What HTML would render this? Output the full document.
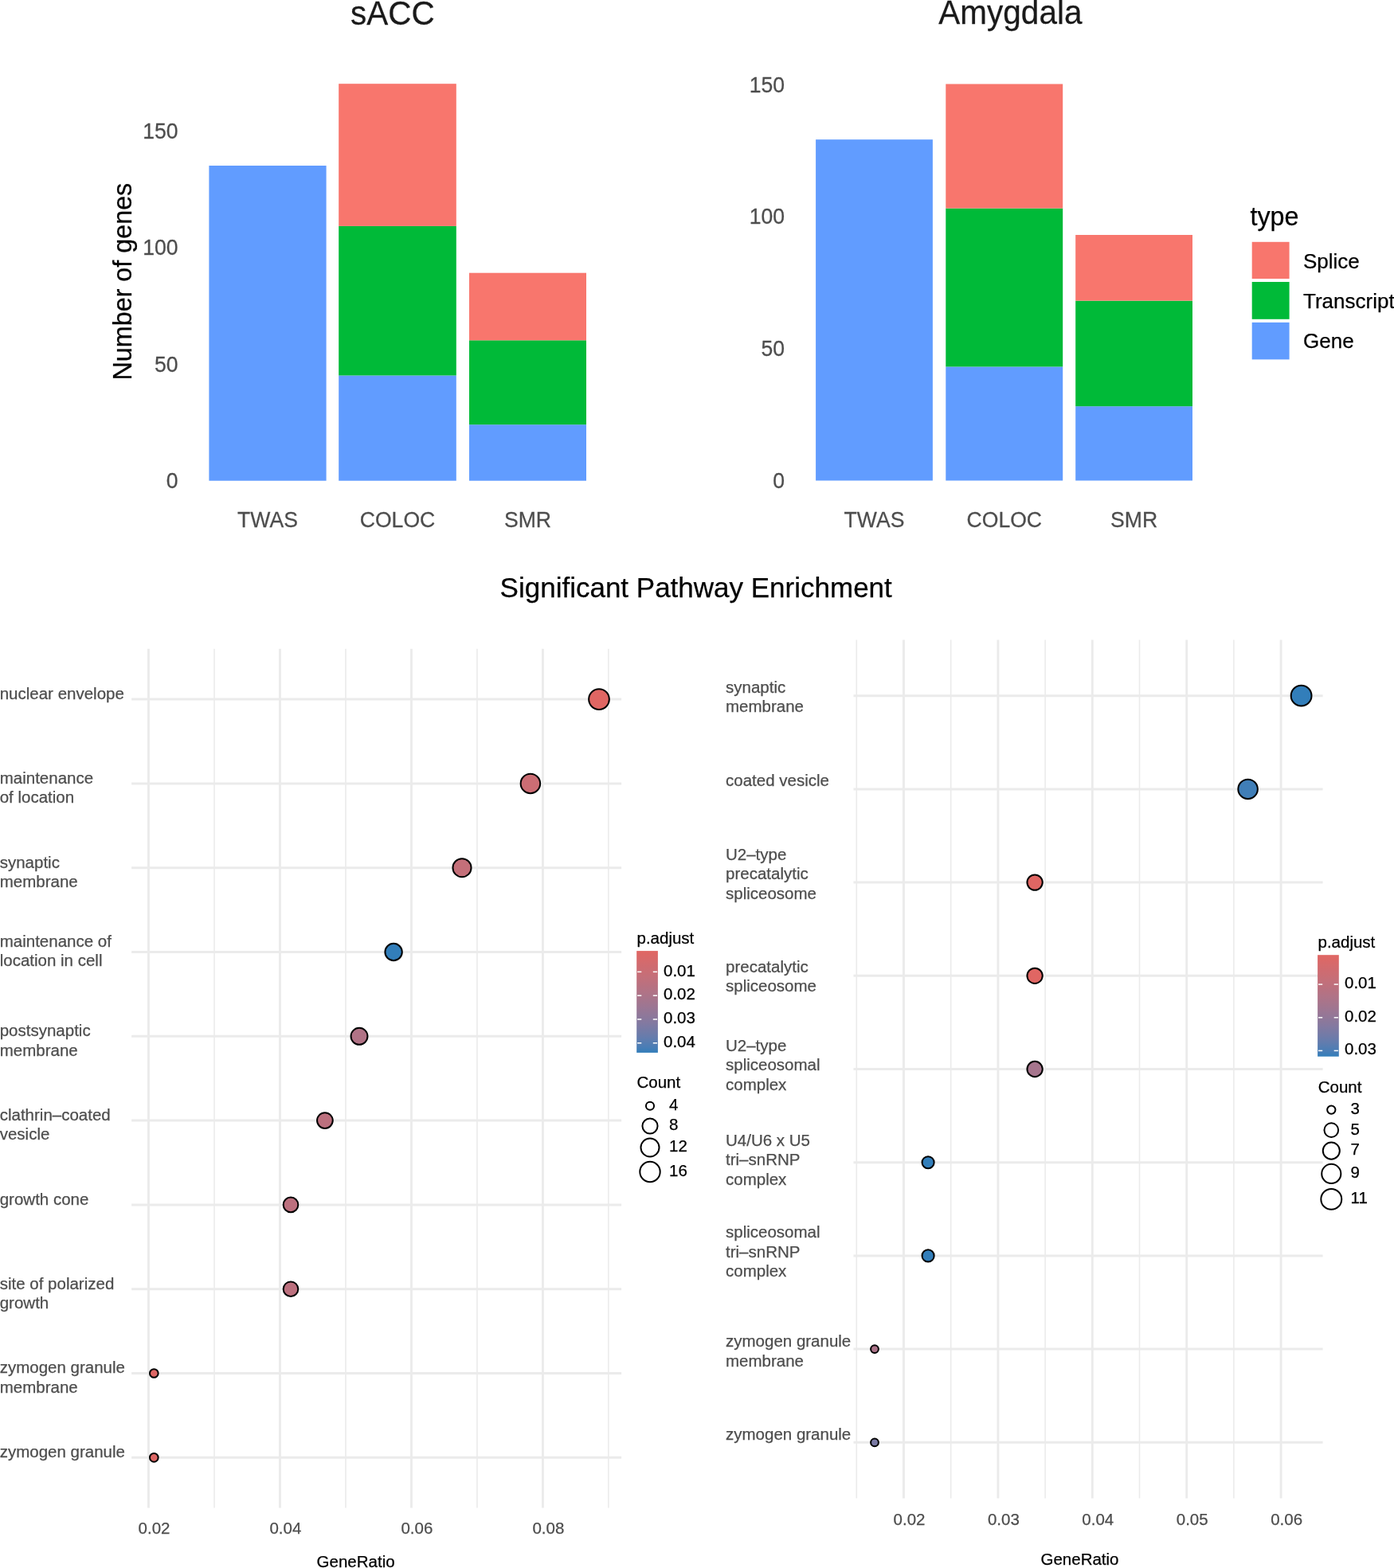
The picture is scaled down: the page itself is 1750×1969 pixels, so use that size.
<!DOCTYPE html>
<html><head><meta charset="utf-8"><title>Figure</title>
<style>html,body{margin:0;padding:0;background:#fff;}body{width:1750px;height:1969px;overflow:hidden;}svg{display:block;}</style>
</head><body>
<svg width="1750" height="1969" viewBox="0 0 1750 1969" font-family="&apos;Liberation Sans&apos;, Arial, sans-serif">
<rect x="0" y="0" width="1750" height="1969" fill="#fff"/>
<text transform="translate(492.90,30.60) scale(1,1.06)" font-size="40.5" fill="#1A1A1A" stroke="#1A1A1A" stroke-width="0.25" text-anchor="middle" >sACC</text>
<text transform="translate(223.60,613.00) scale(1,1.045)" font-size="26.6" fill="#4D4D4D" stroke="#4D4D4D" stroke-width="0.25" text-anchor="end" >0</text>
<text transform="translate(223.60,466.70) scale(1,1.045)" font-size="26.6" fill="#4D4D4D" stroke="#4D4D4D" stroke-width="0.25" text-anchor="end" >50</text>
<text transform="translate(223.60,320.40) scale(1,1.045)" font-size="26.6" fill="#4D4D4D" stroke="#4D4D4D" stroke-width="0.25" text-anchor="end" >100</text>
<text transform="translate(223.60,173.90) scale(1,1.045)" font-size="26.6" fill="#4D4D4D" stroke="#4D4D4D" stroke-width="0.25" text-anchor="end" >150</text>
<text transform="translate(165,353.6) rotate(-90)" font-size="32.3" fill="#000" stroke="#000" stroke-width="0.25" text-anchor="middle">Number of genes</text>
<rect x="262.40" y="208.00" width="147.20" height="395.70" fill="#619CFF"/>
<rect x="425.20" y="471.50" width="147.60" height="132.20" fill="#619CFF"/>
<rect x="425.20" y="283.90" width="147.60" height="187.60" fill="#00BA38"/>
<rect x="425.20" y="105.20" width="147.60" height="178.70" fill="#F8766D"/>
<rect x="589.00" y="533.20" width="147.00" height="70.50" fill="#619CFF"/>
<rect x="589.00" y="427.30" width="147.00" height="105.90" fill="#00BA38"/>
<rect x="589.00" y="342.70" width="147.00" height="84.60" fill="#F8766D"/>
<text transform="translate(336.00,662.10) scale(1,1.045)" font-size="26.6" fill="#4D4D4D" stroke="#4D4D4D" stroke-width="0.25" text-anchor="middle" >TWAS</text>
<text transform="translate(499.00,662.10) scale(1,1.045)" font-size="26.6" fill="#4D4D4D" stroke="#4D4D4D" stroke-width="0.25" text-anchor="middle" >COLOC</text>
<text transform="translate(662.50,662.10) scale(1,1.045)" font-size="26.6" fill="#4D4D4D" stroke="#4D4D4D" stroke-width="0.25" text-anchor="middle" >SMR</text>
<text transform="translate(1268.40,30.30) scale(1,1.03)" font-size="40.5" fill="#1A1A1A" stroke="#1A1A1A" stroke-width="0.25" text-anchor="middle" >Amygdala</text>
<text transform="translate(985.00,613.20) scale(1,1.045)" font-size="26.6" fill="#4D4D4D" stroke="#4D4D4D" stroke-width="0.25" text-anchor="end" >0</text>
<text transform="translate(985.00,447.30) scale(1,1.045)" font-size="26.6" fill="#4D4D4D" stroke="#4D4D4D" stroke-width="0.25" text-anchor="end" >50</text>
<text transform="translate(985.00,281.40) scale(1,1.045)" font-size="26.6" fill="#4D4D4D" stroke="#4D4D4D" stroke-width="0.25" text-anchor="end" >100</text>
<text transform="translate(985.00,115.80) scale(1,1.045)" font-size="26.6" fill="#4D4D4D" stroke="#4D4D4D" stroke-width="0.25" text-anchor="end" >150</text>
<rect x="1024.10" y="175.20" width="146.80" height="428.30" fill="#619CFF"/>
<rect x="1187.30" y="460.50" width="146.90" height="143.00" fill="#619CFF"/>
<rect x="1187.30" y="261.60" width="146.90" height="198.90" fill="#00BA38"/>
<rect x="1187.30" y="105.50" width="146.90" height="156.10" fill="#F8766D"/>
<rect x="1350.20" y="510.20" width="146.80" height="93.30" fill="#619CFF"/>
<rect x="1350.20" y="377.60" width="146.80" height="132.60" fill="#00BA38"/>
<rect x="1350.20" y="295.00" width="146.80" height="82.60" fill="#F8766D"/>
<text transform="translate(1097.50,662.10) scale(1,1.045)" font-size="26.6" fill="#4D4D4D" stroke="#4D4D4D" stroke-width="0.25" text-anchor="middle" >TWAS</text>
<text transform="translate(1260.80,662.10) scale(1,1.045)" font-size="26.6" fill="#4D4D4D" stroke="#4D4D4D" stroke-width="0.25" text-anchor="middle" >COLOC</text>
<text transform="translate(1423.60,662.10) scale(1,1.045)" font-size="26.6" fill="#4D4D4D" stroke="#4D4D4D" stroke-width="0.25" text-anchor="middle" >SMR</text>
<text x="1569.50" y="282.90" font-size="32.3" fill="#000" stroke="#000" stroke-width="0.25" text-anchor="start" >type</text>
<rect x="1571.70" y="303.80" width="46.90" height="46.20" fill="#F8766D"/>
<text x="1636.00" y="337.10" font-size="26.0" fill="#000" stroke="#000" stroke-width="0.25" text-anchor="start" >Splice</text>
<rect x="1571.70" y="354.00" width="46.90" height="46.80" fill="#00BA38"/>
<text x="1636.00" y="387.00" font-size="26.0" fill="#000" stroke="#000" stroke-width="0.25" text-anchor="start" >Transcript</text>
<rect x="1571.70" y="404.90" width="46.90" height="46.50" fill="#619CFF"/>
<text x="1636.00" y="437.40" font-size="26.0" fill="#000" stroke="#000" stroke-width="0.25" text-anchor="start" >Gene</text>
<text x="873.70" y="749.90" font-size="35.0" fill="#000" stroke="#000" stroke-width="0.25" text-anchor="middle" >Significant Pathway Enrichment</text>
<line x1="269.00" y1="814.70" x2="269.00" y2="1893.40" stroke="#EBEBEB" stroke-width="1.6"/>
<line x1="433.97" y1="814.70" x2="433.97" y2="1893.40" stroke="#EBEBEB" stroke-width="1.6"/>
<line x1="598.94" y1="814.70" x2="598.94" y2="1893.40" stroke="#EBEBEB" stroke-width="1.6"/>
<line x1="763.91" y1="814.70" x2="763.91" y2="1893.40" stroke="#EBEBEB" stroke-width="1.6"/>
<line x1="186.50" y1="814.70" x2="186.50" y2="1893.40" stroke="#EBEBEB" stroke-width="2.9"/>
<line x1="351.47" y1="814.70" x2="351.47" y2="1893.40" stroke="#EBEBEB" stroke-width="2.9"/>
<line x1="516.44" y1="814.70" x2="516.44" y2="1893.40" stroke="#EBEBEB" stroke-width="2.9"/>
<line x1="681.41" y1="814.70" x2="681.41" y2="1893.40" stroke="#EBEBEB" stroke-width="2.9"/>
<line x1="165.10" y1="878.10" x2="780.10" y2="878.10" stroke="#EBEBEB" stroke-width="3.0"/>
<line x1="165.10" y1="983.90" x2="780.10" y2="983.90" stroke="#EBEBEB" stroke-width="3.0"/>
<line x1="165.10" y1="1089.70" x2="780.10" y2="1089.70" stroke="#EBEBEB" stroke-width="3.0"/>
<line x1="165.10" y1="1195.50" x2="780.10" y2="1195.50" stroke="#EBEBEB" stroke-width="3.0"/>
<line x1="165.10" y1="1301.30" x2="780.10" y2="1301.30" stroke="#EBEBEB" stroke-width="3.0"/>
<line x1="165.10" y1="1407.10" x2="780.10" y2="1407.10" stroke="#EBEBEB" stroke-width="3.0"/>
<line x1="165.10" y1="1512.90" x2="780.10" y2="1512.90" stroke="#EBEBEB" stroke-width="3.0"/>
<line x1="165.10" y1="1618.70" x2="780.10" y2="1618.70" stroke="#EBEBEB" stroke-width="3.0"/>
<line x1="165.10" y1="1724.50" x2="780.10" y2="1724.50" stroke="#EBEBEB" stroke-width="3.0"/>
<line x1="165.10" y1="1830.30" x2="780.10" y2="1830.30" stroke="#EBEBEB" stroke-width="3.0"/>
<text x="-0.30" y="878.00" font-size="20.5" fill="#4D4D4D" stroke="#4D4D4D" stroke-width="0.25" text-anchor="start" >nuclear envelope</text>
<text x="-0.30" y="984.00" font-size="20.5" fill="#4D4D4D" stroke="#4D4D4D" stroke-width="0.25" text-anchor="start" >maintenance</text>
<text x="-0.30" y="1008.45" font-size="20.5" fill="#4D4D4D" stroke="#4D4D4D" stroke-width="0.25" text-anchor="start" >of location</text>
<text x="-0.30" y="1089.50" font-size="20.5" fill="#4D4D4D" stroke="#4D4D4D" stroke-width="0.25" text-anchor="start" >synaptic</text>
<text x="-0.30" y="1113.95" font-size="20.5" fill="#4D4D4D" stroke="#4D4D4D" stroke-width="0.25" text-anchor="start" >membrane</text>
<text x="-0.30" y="1188.70" font-size="20.5" fill="#4D4D4D" stroke="#4D4D4D" stroke-width="0.25" text-anchor="start" >maintenance of</text>
<text x="-0.30" y="1213.15" font-size="20.5" fill="#4D4D4D" stroke="#4D4D4D" stroke-width="0.25" text-anchor="start" >location in cell</text>
<text x="-0.30" y="1301.40" font-size="20.5" fill="#4D4D4D" stroke="#4D4D4D" stroke-width="0.25" text-anchor="start" >postsynaptic</text>
<text x="-0.30" y="1325.85" font-size="20.5" fill="#4D4D4D" stroke="#4D4D4D" stroke-width="0.25" text-anchor="start" >membrane</text>
<text x="-0.30" y="1406.90" font-size="20.5" fill="#4D4D4D" stroke="#4D4D4D" stroke-width="0.25" text-anchor="start" >clathrin–coated</text>
<text x="-0.30" y="1431.35" font-size="20.5" fill="#4D4D4D" stroke="#4D4D4D" stroke-width="0.25" text-anchor="start" >vesicle</text>
<text x="-0.30" y="1512.80" font-size="20.5" fill="#4D4D4D" stroke="#4D4D4D" stroke-width="0.25" text-anchor="start" >growth cone</text>
<text x="-0.30" y="1618.70" font-size="20.5" fill="#4D4D4D" stroke="#4D4D4D" stroke-width="0.25" text-anchor="start" >site of polarized</text>
<text x="-0.30" y="1643.15" font-size="20.5" fill="#4D4D4D" stroke="#4D4D4D" stroke-width="0.25" text-anchor="start" >growth</text>
<text x="-0.30" y="1724.40" font-size="20.5" fill="#4D4D4D" stroke="#4D4D4D" stroke-width="0.25" text-anchor="start" >zymogen granule</text>
<text x="-0.30" y="1748.85" font-size="20.5" fill="#4D4D4D" stroke="#4D4D4D" stroke-width="0.25" text-anchor="start" >membrane</text>
<text x="-0.30" y="1829.70" font-size="20.5" fill="#4D4D4D" stroke="#4D4D4D" stroke-width="0.25" text-anchor="start" >zymogen granule</text>
<text x="193.50" y="1925.70" font-size="20.5" fill="#4D4D4D" stroke="#4D4D4D" stroke-width="0.25" text-anchor="middle" >0.02</text>
<text x="358.40" y="1925.70" font-size="20.5" fill="#4D4D4D" stroke="#4D4D4D" stroke-width="0.25" text-anchor="middle" >0.04</text>
<text x="523.40" y="1925.70" font-size="20.5" fill="#4D4D4D" stroke="#4D4D4D" stroke-width="0.25" text-anchor="middle" >0.06</text>
<text x="688.40" y="1925.70" font-size="20.5" fill="#4D4D4D" stroke="#4D4D4D" stroke-width="0.25" text-anchor="middle" >0.08</text>
<text x="446.60" y="1968.30" font-size="20.5" fill="#000" stroke="#000" stroke-width="0.25" text-anchor="middle" >GeneRatio</text>
<circle cx="752.00" cy="878.10" r="12.85" fill="#E06663" stroke="#000" stroke-width="2.0"/>
<circle cx="665.90" cy="983.90" r="12.25" fill="#CB6D74" stroke="#000" stroke-width="2.0"/>
<circle cx="580.00" cy="1089.70" r="11.55" fill="#C46F79" stroke="#000" stroke-width="2.0"/>
<circle cx="494.10" cy="1195.50" r="10.70" fill="#327EBA" stroke="#000" stroke-width="2.0"/>
<circle cx="451.00" cy="1301.30" r="10.45" fill="#B17386" stroke="#000" stroke-width="2.0"/>
<circle cx="407.90" cy="1407.10" r="9.85" fill="#BC707E" stroke="#000" stroke-width="2.0"/>
<circle cx="365.00" cy="1512.90" r="9.30" fill="#BC707E" stroke="#000" stroke-width="2.0"/>
<circle cx="365.00" cy="1618.70" r="9.30" fill="#BC707E" stroke="#000" stroke-width="2.0"/>
<circle cx="193.30" cy="1724.50" r="5.35" fill="#DE6765" stroke="#000" stroke-width="2.0"/>
<circle cx="193.30" cy="1830.30" r="5.35" fill="#DE6765" stroke="#000" stroke-width="2.0"/>
<line x1="1075.30" y1="803.40" x2="1075.30" y2="1881.60" stroke="#EBEBEB" stroke-width="1.6"/>
<line x1="1193.70" y1="803.40" x2="1193.70" y2="1881.60" stroke="#EBEBEB" stroke-width="1.6"/>
<line x1="1312.10" y1="803.40" x2="1312.10" y2="1881.60" stroke="#EBEBEB" stroke-width="1.6"/>
<line x1="1430.50" y1="803.40" x2="1430.50" y2="1881.60" stroke="#EBEBEB" stroke-width="1.6"/>
<line x1="1548.90" y1="803.40" x2="1548.90" y2="1881.60" stroke="#EBEBEB" stroke-width="1.6"/>
<line x1="1134.50" y1="803.40" x2="1134.50" y2="1881.60" stroke="#EBEBEB" stroke-width="2.9"/>
<line x1="1252.90" y1="803.40" x2="1252.90" y2="1881.60" stroke="#EBEBEB" stroke-width="2.9"/>
<line x1="1371.30" y1="803.40" x2="1371.30" y2="1881.60" stroke="#EBEBEB" stroke-width="2.9"/>
<line x1="1489.70" y1="803.40" x2="1489.70" y2="1881.60" stroke="#EBEBEB" stroke-width="2.9"/>
<line x1="1608.10" y1="803.40" x2="1608.10" y2="1881.60" stroke="#EBEBEB" stroke-width="2.9"/>
<line x1="1071.50" y1="873.70" x2="1660.60" y2="873.70" stroke="#EBEBEB" stroke-width="3.0"/>
<line x1="1071.50" y1="990.90" x2="1660.60" y2="990.90" stroke="#EBEBEB" stroke-width="3.0"/>
<line x1="1071.50" y1="1108.10" x2="1660.60" y2="1108.10" stroke="#EBEBEB" stroke-width="3.0"/>
<line x1="1071.50" y1="1225.30" x2="1660.60" y2="1225.30" stroke="#EBEBEB" stroke-width="3.0"/>
<line x1="1071.50" y1="1342.50" x2="1660.60" y2="1342.50" stroke="#EBEBEB" stroke-width="3.0"/>
<line x1="1071.50" y1="1459.70" x2="1660.60" y2="1459.70" stroke="#EBEBEB" stroke-width="3.0"/>
<line x1="1071.50" y1="1576.90" x2="1660.60" y2="1576.90" stroke="#EBEBEB" stroke-width="3.0"/>
<line x1="1071.50" y1="1694.10" x2="1660.60" y2="1694.10" stroke="#EBEBEB" stroke-width="3.0"/>
<line x1="1071.50" y1="1811.30" x2="1660.60" y2="1811.30" stroke="#EBEBEB" stroke-width="3.0"/>
<text x="911.00" y="869.70" font-size="20.5" fill="#4D4D4D" stroke="#4D4D4D" stroke-width="0.25" text-anchor="start" >synaptic</text>
<text x="911.00" y="894.15" font-size="20.5" fill="#4D4D4D" stroke="#4D4D4D" stroke-width="0.25" text-anchor="start" >membrane</text>
<text x="911.00" y="987.20" font-size="20.5" fill="#4D4D4D" stroke="#4D4D4D" stroke-width="0.25" text-anchor="start" >coated vesicle</text>
<text x="911.00" y="1079.90" font-size="20.5" fill="#4D4D4D" stroke="#4D4D4D" stroke-width="0.25" text-anchor="start" >U2–type</text>
<text x="911.00" y="1104.35" font-size="20.5" fill="#4D4D4D" stroke="#4D4D4D" stroke-width="0.25" text-anchor="start" >precatalytic</text>
<text x="911.00" y="1128.80" font-size="20.5" fill="#4D4D4D" stroke="#4D4D4D" stroke-width="0.25" text-anchor="start" >spliceosome</text>
<text x="911.00" y="1221.00" font-size="20.5" fill="#4D4D4D" stroke="#4D4D4D" stroke-width="0.25" text-anchor="start" >precatalytic</text>
<text x="911.00" y="1245.45" font-size="20.5" fill="#4D4D4D" stroke="#4D4D4D" stroke-width="0.25" text-anchor="start" >spliceosome</text>
<text x="911.00" y="1319.80" font-size="20.5" fill="#4D4D4D" stroke="#4D4D4D" stroke-width="0.25" text-anchor="start" >U2–type</text>
<text x="911.00" y="1344.25" font-size="20.5" fill="#4D4D4D" stroke="#4D4D4D" stroke-width="0.25" text-anchor="start" >spliceosomal</text>
<text x="911.00" y="1368.70" font-size="20.5" fill="#4D4D4D" stroke="#4D4D4D" stroke-width="0.25" text-anchor="start" >complex</text>
<text x="911.00" y="1438.90" font-size="20.5" fill="#4D4D4D" stroke="#4D4D4D" stroke-width="0.25" text-anchor="start" >U4/U6 x U5</text>
<text x="911.00" y="1463.35" font-size="20.5" fill="#4D4D4D" stroke="#4D4D4D" stroke-width="0.25" text-anchor="start" >tri–snRNP</text>
<text x="911.00" y="1487.80" font-size="20.5" fill="#4D4D4D" stroke="#4D4D4D" stroke-width="0.25" text-anchor="start" >complex</text>
<text x="911.00" y="1554.40" font-size="20.5" fill="#4D4D4D" stroke="#4D4D4D" stroke-width="0.25" text-anchor="start" >spliceosomal</text>
<text x="911.00" y="1578.85" font-size="20.5" fill="#4D4D4D" stroke="#4D4D4D" stroke-width="0.25" text-anchor="start" >tri–snRNP</text>
<text x="911.00" y="1603.30" font-size="20.5" fill="#4D4D4D" stroke="#4D4D4D" stroke-width="0.25" text-anchor="start" >complex</text>
<text x="911.00" y="1691.30" font-size="20.5" fill="#4D4D4D" stroke="#4D4D4D" stroke-width="0.25" text-anchor="start" >zymogen granule</text>
<text x="911.00" y="1715.75" font-size="20.5" fill="#4D4D4D" stroke="#4D4D4D" stroke-width="0.25" text-anchor="start" >membrane</text>
<text x="911.00" y="1808.20" font-size="20.5" fill="#4D4D4D" stroke="#4D4D4D" stroke-width="0.25" text-anchor="start" >zymogen granule</text>
<text x="1141.50" y="1914.50" font-size="20.5" fill="#4D4D4D" stroke="#4D4D4D" stroke-width="0.25" text-anchor="middle" >0.02</text>
<text x="1259.90" y="1914.50" font-size="20.5" fill="#4D4D4D" stroke="#4D4D4D" stroke-width="0.25" text-anchor="middle" >0.03</text>
<text x="1378.30" y="1914.50" font-size="20.5" fill="#4D4D4D" stroke="#4D4D4D" stroke-width="0.25" text-anchor="middle" >0.04</text>
<text x="1496.70" y="1914.50" font-size="20.5" fill="#4D4D4D" stroke="#4D4D4D" stroke-width="0.25" text-anchor="middle" >0.05</text>
<text x="1615.10" y="1914.50" font-size="20.5" fill="#4D4D4D" stroke="#4D4D4D" stroke-width="0.25" text-anchor="middle" >0.06</text>
<text x="1355.50" y="1964.90" font-size="20.5" fill="#000" stroke="#000" stroke-width="0.25" text-anchor="middle" >GeneRatio</text>
<circle cx="1633.60" cy="873.70" r="12.90" fill="#327EBA" stroke="#000" stroke-width="2.0"/>
<circle cx="1566.60" cy="990.90" r="12.25" fill="#407EB7" stroke="#000" stroke-width="2.0"/>
<circle cx="1299.10" cy="1108.10" r="9.65" fill="#E06663" stroke="#000" stroke-width="2.0"/>
<circle cx="1299.10" cy="1225.30" r="9.65" fill="#E06663" stroke="#000" stroke-width="2.0"/>
<circle cx="1299.10" cy="1342.50" r="9.65" fill="#A6758D" stroke="#000" stroke-width="2.0"/>
<circle cx="1165.10" cy="1459.70" r="7.55" fill="#327EBA" stroke="#000" stroke-width="2.0"/>
<circle cx="1165.10" cy="1576.90" r="7.55" fill="#327EBA" stroke="#000" stroke-width="2.0"/>
<circle cx="1098.00" cy="1694.10" r="4.90" fill="#AC7489" stroke="#000" stroke-width="2.0"/>
<circle cx="1098.00" cy="1811.30" r="4.90" fill="#7A7AA4" stroke="#000" stroke-width="2.0"/>
<defs><linearGradient id="g1" x1="0" y1="0" x2="0" y2="1"><stop offset="0.000" stop-color="#E06663"/><stop offset="0.050" stop-color="#DB6867"/><stop offset="0.100" stop-color="#D56A6C"/><stop offset="0.150" stop-color="#CF6B70"/><stop offset="0.200" stop-color="#CA6D74"/><stop offset="0.250" stop-color="#C46F79"/><stop offset="0.300" stop-color="#BE707D"/><stop offset="0.350" stop-color="#B77181"/><stop offset="0.400" stop-color="#B17386"/><stop offset="0.450" stop-color="#AA748A"/><stop offset="0.500" stop-color="#A3758E"/><stop offset="0.550" stop-color="#9C7693"/><stop offset="0.600" stop-color="#947797"/><stop offset="0.650" stop-color="#8C789B"/><stop offset="0.700" stop-color="#8479A0"/><stop offset="0.750" stop-color="#7A7AA4"/><stop offset="0.800" stop-color="#707BA8"/><stop offset="0.850" stop-color="#657CAD"/><stop offset="0.900" stop-color="#577DB1"/><stop offset="0.950" stop-color="#487DB6"/><stop offset="1.000" stop-color="#327EBA"/></linearGradient></defs>
<text x="799.50" y="1185.00" font-size="20.5" fill="#000" stroke="#000" stroke-width="0.25" text-anchor="start" >p.adjust</text>
<rect x="799.2" y="1194.1" width="26.70" height="127.80" fill="url(#g1)"/>
<line x1="800.10" y1="1220.40" x2="805.30" y2="1220.40" stroke="#fff" stroke-width="1.5"/>
<line x1="819.80" y1="1220.40" x2="825.00" y2="1220.40" stroke="#fff" stroke-width="1.5"/>
<line x1="800.10" y1="1250.20" x2="805.30" y2="1250.20" stroke="#fff" stroke-width="1.5"/>
<line x1="819.80" y1="1250.20" x2="825.00" y2="1250.20" stroke="#fff" stroke-width="1.5"/>
<line x1="800.10" y1="1280.00" x2="805.30" y2="1280.00" stroke="#fff" stroke-width="1.5"/>
<line x1="819.80" y1="1280.00" x2="825.00" y2="1280.00" stroke="#fff" stroke-width="1.5"/>
<line x1="800.10" y1="1309.80" x2="805.30" y2="1309.80" stroke="#fff" stroke-width="1.5"/>
<line x1="819.80" y1="1309.80" x2="825.00" y2="1309.80" stroke="#fff" stroke-width="1.5"/>
<text x="833.00" y="1225.60" font-size="20.5" fill="#000" stroke="#000" stroke-width="0.25" text-anchor="start" >0.01</text>
<text x="833.00" y="1255.40" font-size="20.5" fill="#000" stroke="#000" stroke-width="0.25" text-anchor="start" >0.02</text>
<text x="833.00" y="1285.20" font-size="20.5" fill="#000" stroke="#000" stroke-width="0.25" text-anchor="start" >0.03</text>
<text x="833.00" y="1315.00" font-size="20.5" fill="#000" stroke="#000" stroke-width="0.25" text-anchor="start" >0.04</text>
<defs><linearGradient id="g2" x1="0" y1="0" x2="0" y2="1"><stop offset="0.000" stop-color="#E06663"/><stop offset="0.050" stop-color="#DB6867"/><stop offset="0.100" stop-color="#D56A6C"/><stop offset="0.150" stop-color="#CF6B70"/><stop offset="0.200" stop-color="#CA6D74"/><stop offset="0.250" stop-color="#C46F79"/><stop offset="0.300" stop-color="#BE707D"/><stop offset="0.350" stop-color="#B77181"/><stop offset="0.400" stop-color="#B17386"/><stop offset="0.450" stop-color="#AA748A"/><stop offset="0.500" stop-color="#A3758E"/><stop offset="0.550" stop-color="#9C7693"/><stop offset="0.600" stop-color="#947797"/><stop offset="0.650" stop-color="#8C789B"/><stop offset="0.700" stop-color="#8479A0"/><stop offset="0.750" stop-color="#7A7AA4"/><stop offset="0.800" stop-color="#707BA8"/><stop offset="0.850" stop-color="#657CAD"/><stop offset="0.900" stop-color="#577DB1"/><stop offset="0.950" stop-color="#487DB6"/><stop offset="1.000" stop-color="#327EBA"/></linearGradient></defs>
<text x="1654.50" y="1189.70" font-size="20.5" fill="#000" stroke="#000" stroke-width="0.25" text-anchor="start" >p.adjust</text>
<rect x="1654.1" y="1199.2" width="26.70" height="127.50" fill="url(#g2)"/>
<line x1="1655.00" y1="1236.10" x2="1660.20" y2="1236.10" stroke="#fff" stroke-width="1.5"/>
<line x1="1674.70" y1="1236.10" x2="1679.90" y2="1236.10" stroke="#fff" stroke-width="1.5"/>
<line x1="1655.00" y1="1277.80" x2="1660.20" y2="1277.80" stroke="#fff" stroke-width="1.5"/>
<line x1="1674.70" y1="1277.80" x2="1679.90" y2="1277.80" stroke="#fff" stroke-width="1.5"/>
<line x1="1655.00" y1="1319.40" x2="1660.20" y2="1319.40" stroke="#fff" stroke-width="1.5"/>
<line x1="1674.70" y1="1319.40" x2="1679.90" y2="1319.40" stroke="#fff" stroke-width="1.5"/>
<text x="1688.00" y="1240.80" font-size="20.5" fill="#000" stroke="#000" stroke-width="0.25" text-anchor="start" >0.01</text>
<text x="1688.00" y="1282.50" font-size="20.5" fill="#000" stroke="#000" stroke-width="0.25" text-anchor="start" >0.02</text>
<text x="1688.00" y="1324.10" font-size="20.5" fill="#000" stroke="#000" stroke-width="0.25" text-anchor="start" >0.03</text>
<text x="799.50" y="1366.40" font-size="20.5" fill="#000" stroke="#000" stroke-width="0.25" text-anchor="start" >Count</text>
<circle cx="816.00" cy="1388.70" r="5.05" fill="none" stroke="#000" stroke-width="2.0"/>
<text x="840.00" y="1393.70" font-size="20.5" fill="#000" stroke="#000" stroke-width="0.25" text-anchor="start" >4</text>
<circle cx="816.00" cy="1414.00" r="9.55" fill="none" stroke="#000" stroke-width="2.0"/>
<text x="840.00" y="1419.10" font-size="20.5" fill="#000" stroke="#000" stroke-width="0.25" text-anchor="start" >8</text>
<circle cx="816.00" cy="1441.00" r="11.53" fill="none" stroke="#000" stroke-width="2.0"/>
<text x="840.00" y="1445.90" font-size="20.5" fill="#000" stroke="#000" stroke-width="0.25" text-anchor="start" >12</text>
<circle cx="816.00" cy="1471.50" r="12.70" fill="none" stroke="#000" stroke-width="2.0"/>
<text x="840.00" y="1476.60" font-size="20.5" fill="#000" stroke="#000" stroke-width="0.25" text-anchor="start" >16</text>
<text x="1654.70" y="1371.50" font-size="20.5" fill="#000" stroke="#000" stroke-width="0.25" text-anchor="start" >Count</text>
<circle cx="1671.30" cy="1393.60" r="5.15" fill="none" stroke="#000" stroke-width="2.0"/>
<text x="1695.50" y="1399.00" font-size="20.5" fill="#000" stroke="#000" stroke-width="0.25" text-anchor="start" >3</text>
<circle cx="1671.30" cy="1419.10" r="8.85" fill="none" stroke="#000" stroke-width="2.0"/>
<text x="1695.50" y="1425.00" font-size="20.5" fill="#000" stroke="#000" stroke-width="0.25" text-anchor="start" >5</text>
<circle cx="1671.30" cy="1445.10" r="10.55" fill="none" stroke="#000" stroke-width="2.0"/>
<text x="1695.50" y="1450.20" font-size="20.5" fill="#000" stroke="#000" stroke-width="0.25" text-anchor="start" >7</text>
<circle cx="1671.30" cy="1473.90" r="12.05" fill="none" stroke="#000" stroke-width="2.0"/>
<text x="1695.50" y="1479.00" font-size="20.5" fill="#000" stroke="#000" stroke-width="0.25" text-anchor="start" >9</text>
<circle cx="1671.30" cy="1505.90" r="12.95" fill="none" stroke="#000" stroke-width="2.0"/>
<text x="1695.50" y="1510.50" font-size="20.5" fill="#000" stroke="#000" stroke-width="0.25" text-anchor="start" >11</text>
</svg>
</body></html>
